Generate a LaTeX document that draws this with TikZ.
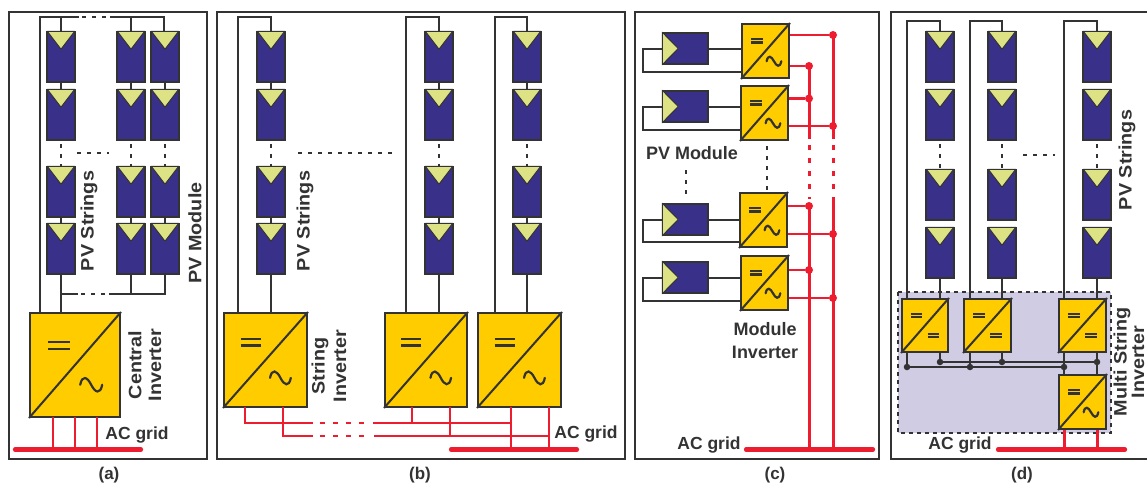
\documentclass[tikz,border=0pt]{standalone}
\usepackage{fontspec}
\setmainfont{Liberation Sans}
\usetikzlibrary{calc}
\definecolor{ln}{HTML}{333333}
\definecolor{modblue}{HTML}{39308A}
\definecolor{trigreen}{HTML}{DDE384}
\definecolor{invyel}{HTML}{FFCC00}
\definecolor{gridred}{HTML}{ED1C2E}
\definecolor{shade}{HTML}{CFCCE4}
\tikzset{
 frame/.style={draw=ln,line width=2pt},
 wire/.style={draw=ln,line width=2pt},
 dotwire/.style={draw=ln,line width=2.1pt,dash pattern=on 4pt off 6pt,dash phase=7pt},
 redw/.style={draw=gridred,line width=2.6pt},
 redv/.style={draw=gridred,line width=3pt},
 redbus/.style={draw=gridred,line width=4.2pt,line cap=round},
 reddash/.style={draw=gridred,line width=3pt,dash pattern=on 5pt off 8pt},
 reddash2/.style={draw=gridred,line width=2.6pt,dash pattern=on 5pt off 8pt},
 moduleV/.style={draw=ln,fill=modblue,line width=1.5pt,minimum width=28pt,minimum height=50pt,inner sep=0pt},
 moduleH/.style={draw=ln,fill=modblue,line width=1.5pt,minimum width=45pt,minimum height=31pt,inner sep=0pt},
 tri/.style={draw=ln,fill=trigreen,line width=1pt,line join=round},
 invbox/.style={draw=ln,fill=invyel,line width=2pt,inner sep=0pt},
 lab/.style={font=\fontsize{18}{21}\selectfont\bfseries,text=ln,inner sep=0pt,align=center},
 gridlab/.style={font=\fontsize{17.5}{20}\selectfont\bfseries,text=ln,inner sep=0pt},
 caplab/.style={font=\fontsize{17}{20}\selectfont\bfseries,text=ln,inner sep=0pt},
 jdot/.style={circle,fill=gridred,minimum size=8pt,inner sep=0pt},
 kdot/.style={circle,fill=ln,minimum size=6.5pt,inner sep=0pt}
}
\newcommand{\vtext}[1]{\scalebox{1.1}[1]{#1}}
% vertical module: name, centre x, top y
\newcommand{\modv}[3]{%
 \node[moduleV] (#1) at (#2,#3+25) {};
 \draw[tri] ($(#1.north west)+(1,0)$) -- ($(#1.north east)+(-1,0)$) -- ($(#1.north)+(0,18)$) -- cycle;}
% horizontal module: name, left x, top y
\newcommand{\modh}[3]{%
 \node[moduleH] (#1) at (#2+22.5,#3+15.5) {};
 \draw[tri] (#1.north west) -- (#1.south west) -- ($(#1.west)+(16,0)$) -- cycle;}
% inverter: name, x1, y1, x2, y2, lower symbol (0 sine / 1 equal)
\newcommand{\inverter}[6]{%
 \pgfmathsetmacro{\ww}{#4-#2}\pgfmathsetmacro{\hh}{#5-#3}
 \pgfmathsetmacro{\uu}{0.3+0.7*\ww/90}
 \pgfmathsetmacro{\eh}{0.12*\ww}\pgfmathsetmacro{\eg}{0.044*\ww-0.4}
 \node[invbox,minimum width=\ww pt,minimum height=\hh pt] (#1) at ({(#2+#4)/2},{(#3+#5)/2}) {};
 \draw[ln,line width=2pt] (#1.north east) -- (#1.south west);
 \pgfmathsetmacro{\ex}{#2+0.32*\ww}\pgfmathsetmacro{\ey}{#3+0.31*\hh}
 \pgfmathsetmacro{\sx}{#2+0.68*\ww}\pgfmathsetmacro{\sy}{#3+0.69*\hh}
 \draw[ln,line width=2.3pt] (\ex-\eh,\ey-\eg) -- (\ex+\eh,\ey-\eg)
   (\ex-\eh,\ey+\eg) -- (\ex+\eh,\ey+\eg);
 \ifnum#6=1
  \draw[ln,line width=2.3pt] (\sx-\eh,\sy-\eg) -- (\sx+\eh,\sy-\eg)
   (\sx-\eh,\sy+\eg) -- (\sx+\eh,\sy+\eg);
 \else
  \draw[ln,line width=2.2pt,line cap=round] (\sx-11*\uu,\sy)
   .. controls (\sx-9*\uu,\sy-10*\uu) and (\sx-4*\uu,\sy-8*\uu) .. (\sx,\sy)
   .. controls (\sx+4*\uu,\sy+8*\uu) and (\sx+9*\uu,\sy+10*\uu) .. (\sx+11*\uu,\sy);
 \fi}
\begin{document}
\begin{tikzpicture}[x=1pt,y=-1pt]
\useasboundingbox (0,0) rectangle (1147,485);
% ---------- frames
\draw[frame] (9,12) rectangle (207,459);
\draw[frame] (217,12) rectangle (625,459);
\draw[frame] (635,12) rectangle (879,459);
\draw[frame] (1147,12) -- (891,12) -- (891,459) -- (1147,459);
% ---------- panel (a)
\coordinate (atl) at (40,17); \coordinate (atd) at (79,17); \coordinate (atr) at (110,17); \coordinate (atq) at (164,17);
\coordinate (abl) at (61,294); \coordinate (abd) at (78,294); \coordinate (abr) at (109,294); \coordinate (abq) at (165,294);
\foreach \c/\x in {A/61,B/131,C/165}{
 \modv{a\c1}{\x}{32}\modv{a\c2}{\x}{90}\modv{a\c3}{\x}{167}\modv{a\c4}{\x}{224}
 \draw[wire] (a\c1.south) -- (a\c2.north) (a\c3.south) -- (a\c4.north);
 \draw[dotwire] (a\c2.south) -- (a\c3.north);
}
\inverter{ainv}{30}{313}{120}{417}{0}
\draw[wire] (atl |- ainv.north) -- (atl) -- (atd);
\draw[wire] (atr) -- (atq) -- (atq |- aC1.north);
\draw[dotwire] (atd) -- (atr);
\draw[wire] (atl -| aA1.north) -- (aA1.north);
\draw[wire] (atl -| aB1.north) -- (aB1.north);
\draw[wire] (aA4.south) -- (aA4.south |- ainv.north);
\draw[wire] (abl) -- (abd);
\draw[dotwire] (abd) -- (abr);
\draw[wire] (abr) -- (abq) -- (aC4.south);
\draw[wire] (aB4.south) -- (aB4.south |- abr);
\coordinate (adl) at (77,153); \coordinate (adr) at (109,153);
\draw[dotwire,dash phase=0pt] (adl) -- (adr);
\coordinate (abusL) at (15,449.5); \coordinate (abusR) at (141,449.5);
\foreach \x in {53,75,97}{\draw[redw] (\x,417) -- (\x,449.5);}
\draw[redbus] (abusL) -- (abusR);
\node[lab,rotate=90] (apv) at (89,221) {\vtext{PV Strings}};
\node[lab,rotate=90] (apm) at (195,233) {\vtext{PV Module}};
\node[lab,rotate=90] (ace) at (135,365) {\vtext{Central}};
\node[lab,rotate=90] (aci) at (155,365) {\vtext{Inverter}};
\node[gridlab] (aac) at (137,435) {AC grid};
\node[caplab] (acap) at (109,475) {(a)};
% ---------- panel (b)
\foreach \c/\x in {A/271,B/439,C/527}{
 \modv{b\c1}{\x}{32}\modv{b\c2}{\x}{90}\modv{b\c3}{\x}{167}\modv{b\c4}{\x}{224}
 \draw[wire] (b\c1.south) -- (b\c2.north) (b\c3.south) -- (b\c4.north);
 \draw[dotwire] (b\c2.south) -- (b\c3.north);
}
\inverter{binvA}{224}{313}{307}{407}{0}
\inverter{binvB}{385}{313}{467}{407}{0}
\inverter{binvC}{478}{313}{561}{407}{0}
\coordinate (btA) at (238,17); \coordinate (btB) at (406,17); \coordinate (btC) at (495,17);
\foreach \t/\c in {btA/A,btB/B,btC/C}{
 \draw[wire] (\t |- binv\c.north) -- (\t) -| (b\c1.north);
 \draw[wire] (b\c4.south) -- (b\c4.south |- binv\c.north);
}
\coordinate (bdl) at (298,153); \coordinate (bdr) at (392,153);
\draw[dotwire,dash phase=0pt] (bdl) -- (bdr);
\draw[redw] (245,407) |- (313,423);
\draw[redw] (283,407) |- (313,436);
\draw[reddash2] (320,423) -- (364,423);
\draw[reddash2] (320,436) -- (364,436);
\draw[redw] (373,423) -- (511,423);
\draw[redw] (374,436) -- (549,436);
\draw[redw] (412,407) -- (412,423);
\draw[redw] (450,407) -- (450,436);
\draw[redw] (511,407) -- (511,449);
\draw[redw] (549,407) -- (549,449);
\coordinate (bbusL) at (451,449.5); \coordinate (bbusR) at (577,449.5);
\draw[redbus] (bbusL) -- (bbusR);
\node[lab,rotate=90] (bpv) at (305,221) {\vtext{PV Strings}};
\node[lab,rotate=90] (bst) at (320,366) {\vtext{String}};
\node[lab,rotate=90] (bsi) at (340,366) {\vtext{Inverter}};
\node[gridlab] (bac) at (586,434) {AC grid};
\node[caplab] (bcap) at (420,475) {(b)};
% ---------- panel (c)
\modh{cm1}{663}{33}\modh{cm2}{663}{91}\modh{cm3}{663}{204}\modh{cm4}{663}{262}
\inverter{ci1}{742}{24}{789}{78}{0}
\inverter{ci2}{741}{86}{788}{140}{0}
\inverter{ci3}{740}{193}{787}{247}{0}
\inverter{ci4}{741}{256}{788}{310}{0}
\foreach \n/\lo in {1/72,2/130,3/242,4/301}{
 \draw[wire] (cm\n.east) -- (cm\n.east -| ci\n.west);
 \draw[wire] (cm\n.west) -- ++(-19,0) |- (ci\n.west |- 0,\lo);
}
\coordinate (cA) at (809,66); \coordinate (cB) at (833,35);
\coordinate (cAe) at (809,449); \coordinate (cBe) at (833,449);
\draw[redv] (cA) -- (809,139); \draw[redv] (cB) -- (833,139);
\draw[reddash] (809,145) -- (809,199); \draw[reddash] (833,145) -- (833,192);
\draw[redv] (809,206) -- (cAe); \draw[redv] (833,197) -- (cBe);
\foreach \yy/\x/\i/\d in {35/833/1/a,66/809/1/b,98.5/809/2/a,126/833/2/b,206/809/3/a,234/833/3/b,270/809/4/a,298/833/4/b}{
 \node[jdot] (cd\i\d) at (\x,\yy) {};
 \draw[redw] (ci\i.east |- cd\i\d) -- (cd\i\d);
}
\coordinate (cbusL) at (746,449.5); \coordinate (cbusR) at (873,449.5);
\draw[redbus] (cbusL) -- (cbusR);
\coordinate (cvt) at (767,146); \coordinate (cvb) at (767,192);
\draw[dotwire,dash phase=0pt] (cvt) -- (cvb);
\coordinate (cdt) at (686,170); \coordinate (cdb) at (686,196);
\draw[dotwire,dash phase=0pt] (cdt) -- (cdb);
\node[lab] (cpm) at (692,153) {PV Module};
\node[lab] (cmo) at (765,329) {Module};
\node[lab] (cmi) at (765,352) {Inverter};
\node[gridlab] (cac) at (709,445) {AC grid};
\node[caplab] (ccap) at (775,475) {(c)};
% ---------- panel (d)
\draw[fill=shade,draw=ln,line width=2pt,dash pattern=on 4pt off 4pt] (898,292) rectangle (1111,433);
\foreach \c/\x in {A/940,B/1002,C/1097}{
 \modv{d\c1}{\x}{32}\modv{d\c2}{\x}{90}\modv{d\c3}{\x}{170}\modv{d\c4}{\x}{228}
 \draw[dotwire] (d\c2.south) -- (d\c3.north);
}
\inverter{diA}{902}{299}{948}{352}{1}
\inverter{diB}{964}{299}{1011}{352}{1}
\inverter{diC}{1059}{299}{1106}{352}{1}
\inverter{diD}{1059}{375}{1106}{429}{0}
\coordinate (dtA) at (907,21); \coordinate (dtB) at (970,21); \coordinate (dtC) at (1064,21);
\foreach \t/\c in {dtA/A,dtB/B,dtC/C}{
 \draw[wire] (\t |- di\c.north) -- (\t) -| (d\c1.north);
 \draw[wire] (d\c4.south) -- (d\c4.south |- di\c.north);
}
\coordinate (ddl) at (1023,155); \coordinate (ddr) at (1055,155);
\draw[dotwire,dash phase=0pt] (ddl) -- (ddr);
\node[kdot] (dk1) at (907,367) {};
\node[kdot] (dk2) at (970,367) {};
\node[kdot] (dk3) at (1064,367) {};
\node[kdot] (dk4) at (940,362) {};
\node[kdot] (dk5) at (1002,362) {};
\node[kdot] (dk6) at (1097,362) {};
\draw[wire] (dk1) -- (dk3);
\draw[wire] (dk4) -- (dk6);
\draw[wire] (dk1 |- diA.south) -- (dk1);
\draw[wire] (dk4 |- diA.south) -- (dk4);
\draw[wire] (dk2 |- diB.south) -- (dk2);
\draw[wire] (dk5 |- diB.south) -- (dk5);
\draw[wire] (dk3 |- diC.south) -- (dk3 |- diD.north);
\draw[wire] (dk6 |- diC.south) -- (dk6 |- diD.north);
\coordinate (dbusL) at (998,449.5); \coordinate (dbusR) at (1125,449.5);
\draw[redv] (dk3 |- diD.south) -- (dk3 |- dbusL);
\draw[redv] (dk6 |- diD.south) -- (dk6 |- dbusL);
\draw[redbus] (dbusL) -- (dbusR);
\node[lab,rotate=90] (dpv) at (1127,160) {\vtext{PV Strings}};
\node[lab,rotate=90] (dms) at (1122,362) {\vtext{Multi String}};
\node[lab,rotate=90] (dmi) at (1138,362) {\vtext{Inverter}};
\node[gridlab] (dac) at (960,445) {AC grid};
\node[caplab] (dcap) at (1022,475) {(d)};
\end{tikzpicture}
\end{document}
